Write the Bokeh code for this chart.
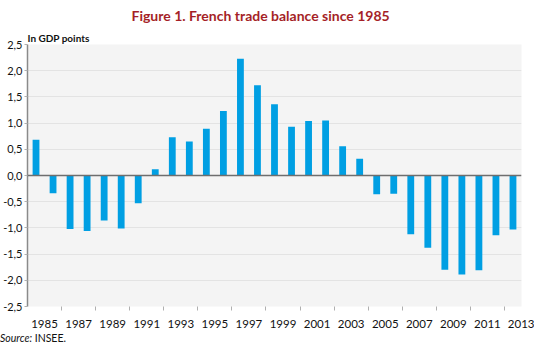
from bokeh.plotting import figure
from bokeh.models import FixedTicker, Span, Range1d, Title, Div
from bokeh.layouts import column
from bokeh.embed import file_html
from bokeh.resources import INLINE

# ---- data ----
years = list(range(1985, 2014))
balance = [0.68, -0.34, -1.02, -1.06, -0.86, -1.01, -0.53, 0.12, 0.73, 0.65,
           0.89, 1.23, 2.23, 1.72, 1.36, 0.93, 1.04, 1.05, 0.56, 0.32,
           -0.36, -0.35, -1.12, -1.38, -1.80, -1.89, -1.81, -1.14, -1.03]
y_ticks = [-2.5, -2.0, -1.5, -1.0, -0.5, 0.0, 0.5, 1.0, 1.5, 2.0, 2.5]
y_tick_labels = ["-2,5", "-2,0", "-1,5", "-1,0", "-0,5", "0,0",
                 "0,5", "1,0", "1,5", "2,0", "2,5"]
x_tick_labels = [str(y) for y in years[::2]]

title_text = "Figure 1. French trade balance since 1985"
unit_text = "In GDP points"
source_label = "Source:"
source_text = "INSEE."

FONT = "Lato"
n = len(years)
xpos = [i + 0.5 for i in range(n)]

# page is 550x360 with an 8px body margin -> 534 x 344 available
p = figure(width=534, height=332, output_backend="svg", toolbar_location=None,
           x_range=Range1d(0, n), y_range=Range1d(-2.5, 2.5),
           min_border_left=23, min_border_right=13, min_border_top=40,
           min_border_bottom=26)
p.background_fill_color = "#f4f4f4"
p.border_fill_color = "white"
p.outline_line_color = None

# titles (first added 'above' item sits closest to the frame; p.title is outermost)
p.title.text = title_text
p.title.align = "left"
p.title.offset = 104
p.title.standoff = 9
p.title.text_font = FONT
p.title.text_font_style = "bold"
p.title.text_font_size = "14px"
p.title.text_color = "#a51f27"
p.add_layout(Title(text=unit_text, align="left", offset=0, standoff=2,
                   text_font=FONT, text_font_style="bold", text_font_size="10px",
                   text_color="#111111"), "above")

p.vbar(x=xpos, top=balance, width=0.4, color="#009fe3", line_color=None)

p.add_layout(Span(location=0, dimension="width", line_color="#6e6e6e", line_width=1.5))

# x axis: labels at centres of 2-year groups, tick marks at group boundaries
major = [2 * k + 1 for k in range(len(x_tick_labels))]
minor = [2 * k for k in range(1, len(x_tick_labels))]
p.xaxis.ticker = FixedTicker(ticks=major, minor_ticks=minor)
p.xaxis.major_label_overrides = {m: lab for m, lab in zip(major, x_tick_labels)}
p.xaxis.axis_line_color = None
p.xaxis.major_tick_line_color = None
p.xaxis.major_tick_out = 0
p.xaxis.major_tick_in = 0
p.xaxis.minor_tick_line_color = "#b0b0b0"
p.xaxis.minor_tick_out = 4
p.xaxis.minor_tick_in = 0
p.xaxis.major_label_standoff = 9
p.xaxis.major_label_text_font = FONT
p.xaxis.major_label_text_font_size = "11.5px"
p.xaxis.major_label_text_color = "#111111"
p.xgrid.grid_line_color = None

p.yaxis.ticker = FixedTicker(ticks=y_ticks, minor_ticks=[])
p.yaxis.major_label_overrides = {t: lab for t, lab in zip(y_ticks, y_tick_labels)}
p.yaxis.axis_line_color = "#8a8a8a"
p.yaxis.axis_line_width = 1.5
p.yaxis.major_tick_line_color = "#b0b0b0"
p.yaxis.major_tick_out = 3
p.yaxis.major_tick_in = 0
p.yaxis.minor_tick_line_color = None
p.yaxis.major_label_standoff = 2
p.yaxis.major_label_text_font = FONT
p.yaxis.major_label_text_font_size = "11px"
p.yaxis.major_label_text_color = "#111111"
p.ygrid.grid_line_color = "#e3e3e3"
p.ygrid.grid_line_width = 1

src = Div(text=f"<i>{source_label}</i> {source_text}", width=200, height=12,
          margin=(0, 0, 0, 0),
          styles={"font-family": FONT, "font-size": "10.5px", "color": "#111111",
                  "line-height": "12px", "overflow": "hidden"})

layout = column(p, src, spacing=0, styles={"vertical-align": "top"})
open("out.html", "w").write(file_html(layout, INLINE))
